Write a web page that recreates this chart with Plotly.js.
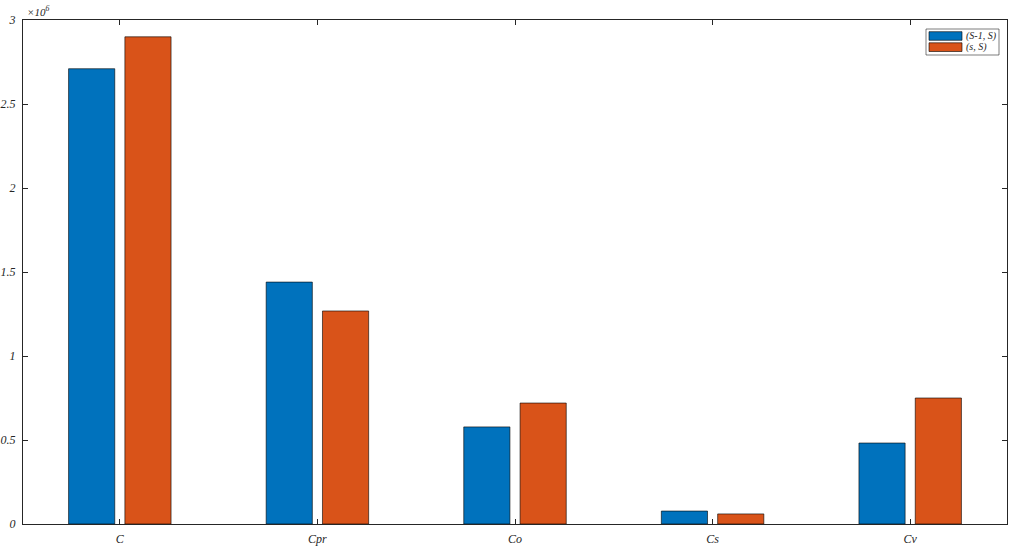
<!DOCTYPE html>
<html>
<head>
<meta charset="utf-8">
<script src="https://cdn.plot.ly/plotly-3.0.1.min.js"></script>
<style>
  html, body { margin: 0; padding: 0; background: #fff; }
  #chart { width: 1020px; height: 555px; }
</style>
</head>
<body>
<div id="chart"></div>
<script>
// costs per category, in units (axis shows x10^6)
var categories = ['C', 'Cpr', 'Co', 'Cs', 'Cv'];
var seriesNames = ['(S-1, S)', '(s, S)'];
var seriesColors = ['#0072BD', '#D95319'];
var valuesS1S = [2.71e6, 1.44e6, 0.578e6, 0.077e6, 0.482e6];
var valuesSS = [2.90e6, 1.268e6, 0.72e6, 0.06e6, 0.75e6];
var yTickVals = [0, 0.5e6, 1e6, 1.5e6, 2e6, 2.5e6, 3e6];
var yTickText = ['0', '0.5', '1', '1.5', '2', '2.5', '3'];

function makeBars(divId) {
    var font = 'Liberation Serif';
    var W = 1020, H = 555;
    var m = {l: 23, r: 13, t: 20, b: 31};
    // pixel -> paper helpers for the hand drawn legend box
    function px(x) { return (x - m.l) / (W - m.l - m.r); }
    function py(y) { return (H - m.b - y) / (H - m.t - m.b); }

    var trace1 = {
        x: categories,
        y: valuesS1S,
        type: 'bar',
        name: seriesNames[0],
        marker: {color: seriesColors[0], line: {color: '#000', width: 0.6}}
    };
    var trace2 = {
        x: categories,
        y: valuesSS,
        type: 'bar',
        name: seriesNames[1],
        marker: {color: seriesColors[1], line: {color: '#000', width: 0.6}}
    };

    var axisCommon = {
        showline: true,
        linecolor: '#262626',
        linewidth: 1,
        mirror: 'ticks',
        ticks: 'inside',
        ticklen: 5,
        tickcolor: '#262626',
        showgrid: false,
        zeroline: false,
        tickfont: {family: font, size: 12, color: '#262626', style: 'italic'}
    };

    // legend drawn as shapes so the swatches are wide like the original
    var shapes = [{
        type: 'rect', xref: 'paper', yref: 'paper',
        x0: px(926), x1: px(999), y0: py(29), y1: py(55),
        line: {color: '#262626', width: 0.6}, fillcolor: '#fff'
    }];
    var annotations = [{
        text: '\u00d710<sup>6</sup>',
        xref: 'paper', yref: 'paper',
        x: 0.002, y: 1.0, xanchor: 'left', yanchor: 'bottom',
        showarrow: false,
        font: {family: font, size: 11, color: '#262626', style: 'italic'}
    }];
    var rows = [[31.7, 40.3], [42.8, 51.5]];
    for (var i = 0; i < seriesNames.length; i++) {
        shapes.push({
            type: 'rect', xref: 'paper', yref: 'paper',
            x0: px(929), x1: px(962), y0: py(rows[i][0]), y1: py(rows[i][1]),
            line: {color: '#000', width: 0.6}, fillcolor: seriesColors[i]
        });
        annotations.push({
            text: seriesNames[i],
            xref: 'paper', yref: 'paper',
            x: px(964), y: py((rows[i][0] + rows[i][1]) / 2),
            xanchor: 'left', yanchor: 'middle', showarrow: false,
            font: {family: font, size: 10, color: '#262626', style: 'italic'}
        });
    }

    var layout = {
        width: W,
        height: H,
        margin: m,
        paper_bgcolor: '#fff',
        plot_bgcolor: '#fff',
        barmode: 'group',
        bargap: 0.43,
        bargroupgap: 0.18,
        showlegend: false,
        xaxis: Object.assign({}, axisCommon, {
            type: 'category',
            range: [-0.49, 4.49],
            ticklabelstandoff: 4
        }),
        yaxis: Object.assign({}, axisCommon, {
            range: [0, 3e6],
            tickvals: yTickVals,
            ticktext: yTickText,
            ticklabelstandoff: 4
        }),
        shapes: shapes,
        annotations: annotations
    };

    var config = {responsive: false, displayModeBar: false};
    Plotly.newPlot(divId, [trace1, trace2], layout, config);
}

makeBars('chart');
</script>
</body>
</html>
